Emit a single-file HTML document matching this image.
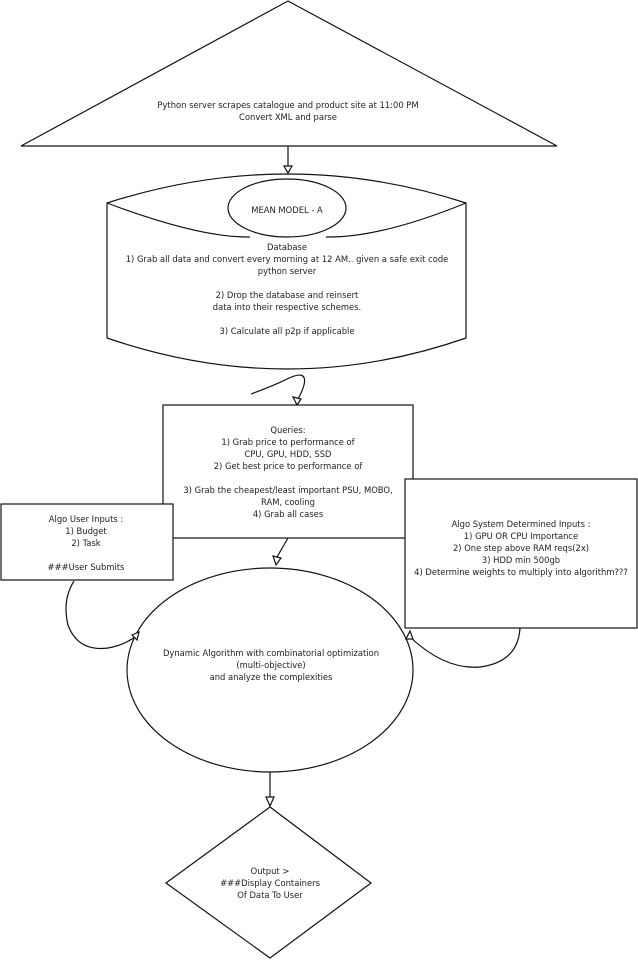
<!DOCTYPE html>
<html><head><meta charset="utf-8"><style>
html,body{margin:0;padding:0;background:#fff;}
svg{display:block;}
text{font-family:"DejaVu Sans","Liberation Sans",sans-serif;font-size:8.4px;fill:#222;text-anchor:middle;}
</style></head><body>
<svg width="638" height="960" viewBox="0 0 638 960" xmlns="http://www.w3.org/2000/svg">
<g fill="none" stroke="#111" stroke-width="1.2">
<polygon points="288,1 557,146 21,146" fill="#fff"/>
<line x1="288" y1="146" x2="288" y2="168"/>
<polygon points="284,166 292,166 288,173" fill="#fff"/>
<!-- cylinder -->
<path d="M107,203 Q288,145 466,203 L466,338 Q288,400 107,338 Z" fill="#fff"/>
<path d="M107,203 Q200,238 250,237 M326,237 Q380,238 466,203"/>
<ellipse cx="287" cy="208" rx="59" ry="29" fill="#fff"/>
<!-- squiggle -->
<path d="M251,394 Q275,385 285,380 Q308,368 304,385 Q301,395 297,400"/>
<polygon points="293,397 301,399 297,405" fill="#fff"/>
<rect x="163" y="405" width="250" height="133" fill="#fff"/>
<rect x="1" y="504" width="172" height="76" fill="#fff"/>
<rect x="405" y="479" width="232" height="149" fill="#fff"/>
<line x1="288" y1="538" x2="277" y2="557"/>
<polygon points="273,556 281,558 276,565" fill="#fff"/>
<ellipse cx="270" cy="670" rx="143" ry="102" fill="#fff"/>
<path d="M74,581 Q62,600 68,625 Q78,652 108,648 Q125,645 136,636"/>
<polygon points="132,635 139,632 137,640" fill="#fff"/>
<path d="M520,628 Q518,662 480,667 Q445,670 410,637"/>
<polygon points="406,639 410,631 413,639" fill="#fff"/>
<line x1="270" y1="772" x2="270" y2="800"/>
<polygon points="266,797 274,797 270,806" fill="#fff"/>
<polygon points="270,807 371,883 270,958 166,883" fill="#fff"/>
</g>
<text x="288" y="108">Python server scrapes catalogue and product site at 11:00 PM</text>
<text x="288" y="120">Convert XML and parse</text>
<text x="287" y="213">MEAN MODEL - A</text>
<text x="287" y="250">Database</text>
<text x="287" y="262">1) Grab all data and convert every morning at 12 AM.. given a safe exit code</text>
<text x="287" y="274">python server</text>
<text x="287" y="298">2) Drop the database and reinsert</text>
<text x="287" y="310">data into their respective schemes.</text>
<text x="287" y="334">3) Calculate all p2p if applicable</text>
<text x="288" y="433">Queries:</text>
<text x="288" y="445">1) Grab price to performance of</text>
<text x="288" y="457">CPU, GPU, HDD, SSD</text>
<text x="288" y="469">2) Get best price to performance of</text>
<text x="288" y="493">3) Grab the cheapest/least important PSU, MOBO,</text>
<text x="288" y="505">RAM, cooling</text>
<text x="288" y="517">4) Grab all cases</text>
<text x="86" y="522">Algo User Inputs :</text>
<text x="86" y="534">1) Budget</text>
<text x="86" y="546">2) Task</text>
<text x="86" y="570">###User Submits</text>
<text x="521" y="527">Algo System Determined Inputs :</text>
<text x="521" y="539">1) GPU OR CPU Importance</text>
<text x="521" y="551">2) One step above RAM reqs(2x)</text>
<text x="521" y="563">3) HDD min 500gb</text>
<text x="521" y="575">4) Determine weights to multiply into algorithm???</text>
<text x="271" y="656">Dynamic Algorithm with combinatorial optimization</text>
<text x="271" y="668">(multi-objective)</text>
<text x="271" y="680">and analyze the complexities</text>
<text x="270" y="874">Output &gt;</text>
<text x="270" y="886">###Display Containers</text>
<text x="270" y="898">Of Data To User</text>
</svg>
</body></html>
